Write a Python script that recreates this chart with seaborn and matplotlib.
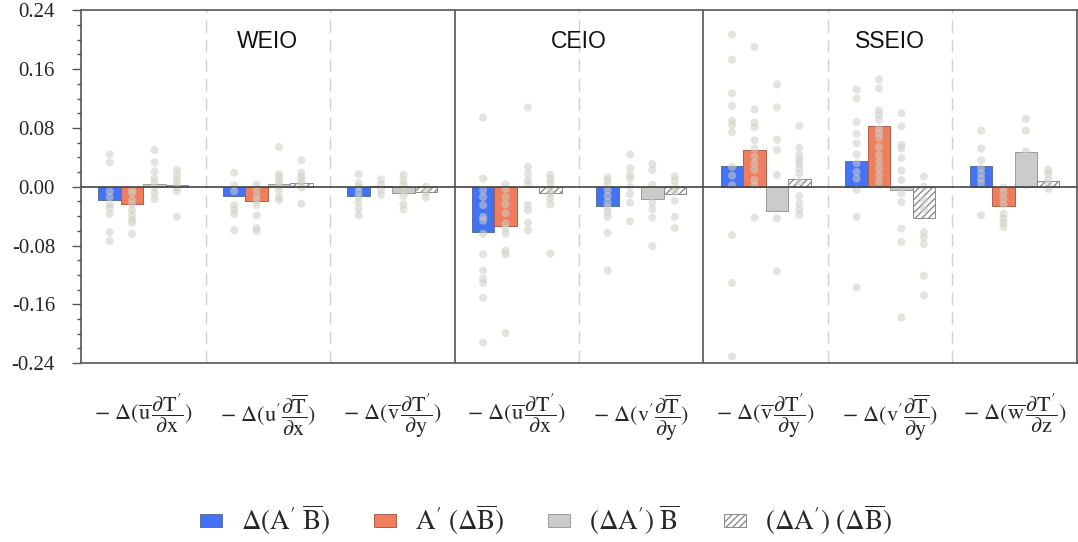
import numpy as np
import pandas as pd
import matplotlib
matplotlib.use("Agg")
import matplotlib.pyplot as plt
import seaborn as sns

sns.set_theme(style="white")
plt.rcParams['font.family'] = ['Liberation Serif', 'DejaVu Serif']
plt.rcParams['mathtext.fontset'] = 'stix'
plt.rcParams['axes.unicode_minus'] = False

# ---------------- data ----------------
term_labels = [
    r"$-\ \Delta(\overline{\mathrm{u}}\,\dfrac{\partial \mathrm{T}'}{\partial \mathrm{x}})$",
    r"$-\ \Delta(\mathrm{u}'\dfrac{\partial \overline{\mathrm{T}}}{\partial \mathrm{x}})$",
    r"$-\ \Delta(\overline{\mathrm{v}}\,\dfrac{\partial \mathrm{T}'}{\partial \mathrm{y}})$",
    r"$-\ \Delta(\overline{\mathrm{u}}\,\dfrac{\partial \mathrm{T}'}{\partial \mathrm{x}})$",
    r"$-\ \Delta(\mathrm{v}'\dfrac{\partial \overline{\mathrm{T}}}{\partial \mathrm{y}})$",
    r"$-\ \Delta(\overline{\mathrm{v}}\,\dfrac{\partial \mathrm{T}'}{\partial \mathrm{y}})$",
    r"$-\ \Delta(\mathrm{v}'\dfrac{\partial \overline{\mathrm{T}}}{\partial \mathrm{y}})$",
    r"$-\ \Delta(\overline{\mathrm{w}}\,\dfrac{\partial \mathrm{T}'}{\partial \mathrm{z}})$",
]
regions = ["WEIO", "CEIO", "SSEIO"]
region_sizes = [3, 2, 3]

components = [
    r"$\Delta(\mathrm{A}'\ \overline{\mathrm{B}})$",
    r"$\mathrm{A}'\ (\Delta\overline{\mathrm{B}})$",
    r"$(\Delta\mathrm{A}')\ \overline{\mathrm{B}}$",
    r"$(\Delta\mathrm{A}')\ (\Delta\overline{\mathrm{B}})$",
]

# multi-model mean (bars)
mean_dAB = [-0.018, -0.012, -0.013, -0.061, -0.026, 0.028, 0.035, 0.028]
mean_AdB = [-0.024, -0.019, 0.001, -0.053, 0.0, 0.050, 0.082, -0.026]
mean_dA_B = [0.004, 0.004, -0.009, -0.001, -0.017, -0.033, -0.005, 0.047]
mean_dA_dB = [0.002, 0.0045, -0.007, -0.009, -0.0095, 0.010, -0.0425, 0.0075]

# individual models (dots)
models_dAB = [
    [0.044, 0.033, -0.006, -0.014, -0.024, -0.029, -0.037, -0.062, -0.074],
    [0.019, 0.002, -0.006, -0.025, -0.031, -0.037, -0.059],
    [0.017, 0.005, 0.000, -0.007, -0.014, -0.021, -0.030, -0.039],
    [0.094, 0.011, -0.005, -0.014, -0.025, -0.041, -0.046, -0.064, -0.092, -0.114, -0.125, -0.131, -0.151, -0.212],
    [0.013, 0.008, 0.002, -0.005, -0.013, -0.021, -0.028, -0.034, -0.041, -0.063, -0.114],
    [0.207, 0.173, 0.127, 0.110, 0.090, 0.084, 0.074, 0.027, 0.015, 0.002, -0.066, -0.131, -0.231],
    [0.132, 0.120, 0.088, 0.072, 0.059, 0.044, 0.032, 0.020, 0.011, -0.004, -0.041, -0.137],
    [0.076, 0.052, 0.036, 0.025, 0.018, 0.011, 0.005, -0.039],
]
models_AdB = [
    [-0.005, -0.009, -0.018, -0.024, -0.032, -0.039, -0.045, -0.049, -0.064],
    [0.003, -0.003, -0.012, -0.018, -0.025, -0.039, -0.056, -0.060],
    [0.010, 0.003, -0.004, -0.011],
    [0.003, -0.003, -0.014, -0.024, -0.036, -0.050, -0.057, -0.064, -0.087, -0.092, -0.199],
    [0.044, 0.025, 0.016, 0.011, 0.000, -0.010, -0.022, -0.047],
    [0.190, 0.105, 0.087, 0.081, 0.063, 0.052, 0.041, 0.032, 0.023, 0.009, 0.002, -0.042],
    [0.146, 0.134, 0.104, 0.098, 0.091, 0.079, 0.073, 0.066, 0.054, 0.043, 0.034, 0.025, 0.016, 0.007],
    [-0.001, -0.008, -0.016, -0.024, -0.037, -0.043, -0.049, -0.055],
]
models_dA_B = [
    [0.050, 0.033, 0.021, 0.011, 0.005, -0.001, -0.009, -0.017],
    [0.054, 0.017, 0.013, 0.007, 0.001, -0.005, -0.014, -0.018],
    [0.016, 0.008, 0.002, -0.005, -0.013, -0.024, -0.031],
    [0.108, 0.027, 0.018, 0.009, 0.004, -0.025, -0.032, -0.049, -0.059],
    [0.031, 0.023, 0.003, -0.005, -0.022, -0.031, -0.042, -0.081],
    [0.139, 0.108, 0.064, 0.050, 0.016, -0.043, -0.115],
    [0.100, 0.082, 0.057, 0.052, 0.039, 0.022, 0.009, -0.009, -0.021, -0.057, -0.075, -0.178],
    [0.092, 0.076, 0.048, 0.032, 0.023, 0.013, 0.002],
]
models_dA_dB = [
    [0.023, 0.016, 0.010, 0.004, -0.001, -0.006, -0.041],
    [0.036, 0.019, 0.013, 0.009, 0.004, -0.001, -0.023],
    [0.000, -0.008, -0.015],
    [0.016, 0.010, 0.004, -0.003, -0.009, -0.016, -0.024, -0.091],
    [0.014, 0.008, 0.000, -0.007, -0.019, -0.041, -0.056],
    [0.083, 0.053, 0.043, 0.037, 0.032, 0.025, 0.018, 0.007, -0.013, -0.023, -0.031, -0.038],
    [0.014, 0.000, -0.018, -0.030, -0.062, -0.069, -0.078, -0.121, -0.148],
    [0.023, 0.018, 0.011, 0.004, -0.003],
]

y_ticks = [-0.24, -0.16, -0.08, 0.00, 0.08, 0.16, 0.24]

# ---------------- styling ----------------
face_colors = ["#4372f4", "#ee7e5e", "#cbcbcb", "#ffffff"]
edge_colors = ["#5a6f9e", "#a8604c", "#9a9a9a", "#8a8a8a"]

means = [mean_dAB, mean_AdB, mean_dA_B, mean_dA_dB]
models = [models_dAB, models_AdB, models_dA_B, models_dA_dB]
n_terms = len(term_labels)

bar_df = pd.DataFrame({
    "term": np.repeat(np.arange(n_terms), 4),
    "comp": components * n_terms,
    "value": [means[k][i] for i in range(n_terms) for k in range(4)],
})

total_w = 0.72
bw = total_w / 4
rows = []
for k in range(4):
    for i in range(n_terms):
        for v in models[k][i]:
            rows.append({"x": i + (k - 1.5) * bw, "value": v})
pt_df = pd.DataFrame(rows)

fig, ax = plt.subplots(figsize=(10.78, 5.42), dpi=100)
fig.subplots_adjust(left=0.0752, right=0.999, top=0.981, bottom=0.330)

sns.barplot(data=bar_df, x="term", y="value", hue="comp", hue_order=components,
            palette=dict(zip(components, face_colors)), saturation=1,
            width=total_w, errorbar=None, legend=False, ax=ax, zorder=3)

for k, cont in enumerate(ax.containers):
    for p in cont:
        p.set_edgecolor(edge_colors[k])
        p.set_linewidth(0.7)
        if k == 3:
            p.set_hatch("/////")

sns.scatterplot(data=pt_df, x="x", y="value", color="#cfcfc4", alpha=0.55,
                s=34, edgecolor="none", ax=ax, zorder=4, legend=False)

ax.set_xlim(-0.5, n_terms - 0.5)
ax.set_ylim(-0.24, 0.24)

# separators
bounds = np.cumsum(region_sizes)[:-1]
for b in range(1, n_terms):
    if b in bounds:
        ax.axvline(b - 0.5, color="#555555", lw=1.2, zorder=2)
    else:
        ax.axvline(b - 0.5, color="#d0d0d0", lw=1.0, ls=(0, (9, 5)), zorder=1)
ax.axhline(0, color="#444444", lw=1.2, zorder=5)

# region labels
start = 0
for name, size in zip(regions, region_sizes):
    cx = start + (size - 1) / 2
    ax.text(cx, 0.197, name, ha="center", va="center", fontsize=16.5,
            family="Liberation Sans", color="#111111")
    start += size

ax.set_xticks(range(n_terms))
ax.set_xticklabels(term_labels, fontsize=16)
ax.set_yticks(y_ticks)
ax.set_yticklabels([f"{t:.2f}" for t in y_ticks], fontsize=15)
ax.set_yticks(np.arange(-0.24, 0.2401, 0.02), minor=True)
ax.tick_params(axis="x", length=0, pad=21)
ax.tick_params(axis="y", which="major", left=True, direction="out",
               length=6.7, width=1.0, color="#555555", pad=12)
ax.tick_params(axis="y", which="minor", left=True, direction="out",
               length=3.2, width=1.0, color="#555555")
ax.set_xlabel("")
ax.set_ylabel("")
for s in ax.spines.values():
    s.set_color("#555555")
    s.set_linewidth(1.2)

fig.legend(handles=list(ax.containers), labels=components, loc="center",
           bbox_to_anchor=(546 / 1078, 1 - 520 / 542), ncol=4, frameon=False,
           fontsize=19.5, handlelength=0.82, handleheight=0.34,
           handletextpad=0.7, columnspacing=1.6)

fig.savefig("out.png", dpi=100)
